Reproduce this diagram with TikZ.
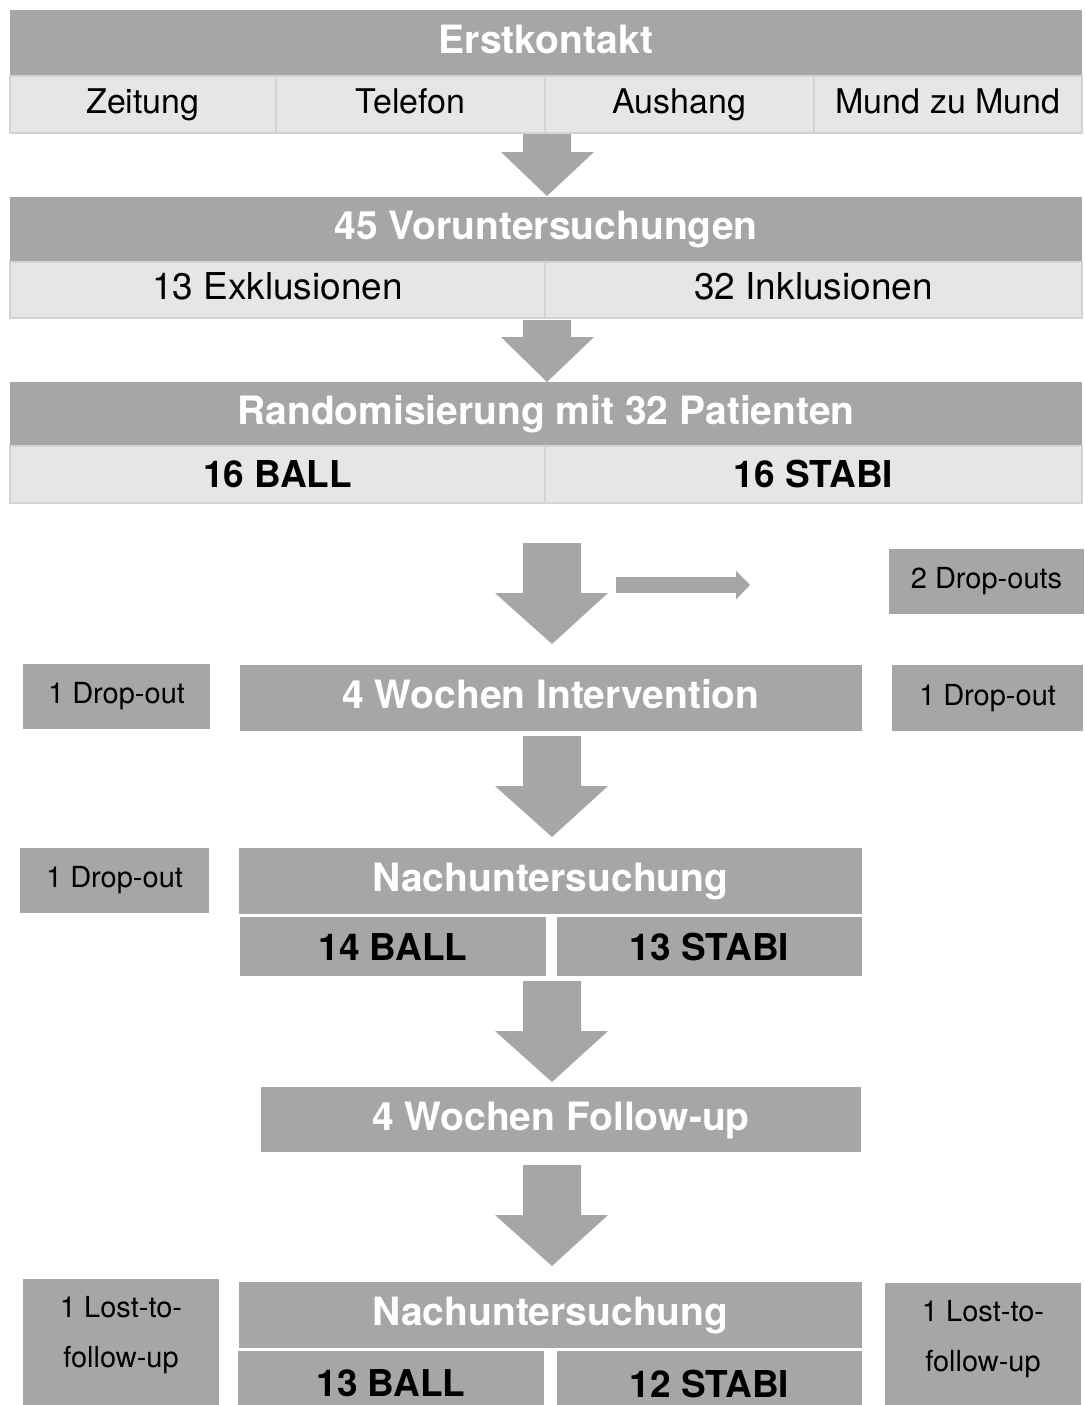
\documentclass[tikz,border=0pt]{standalone}
\usepackage{fontspec}
\setmainfont{TeX Gyre Heros}
\usetikzlibrary{arrows.meta}
\definecolor{boxgray}{HTML}{A6A6A6}
\definecolor{cellgray}{HTML}{E6E6E6}
\definecolor{cellline}{HTML}{D3D3D3}
\tikzset{
  corners/.style n args={4}{at={({(#1+#3)/2},{(#2+#4)/2})}, minimum width={(#3-#1)*0.5pt}, minimum height={(#4-#2)*0.5pt}},
  hdr/.style={fill=boxgray, inner sep=0pt, text=white, text height=14pt, text depth=3.5pt, font=\bfseries\fontsize{19.5}{23}\selectfont},
  cellbox/.style={fill=cellgray, draw=cellline, line width=1pt, inner sep=0pt, text height=12.2pt, text depth=3.7pt, font=\fontsize{17}{20}\selectfont},
  armbox/.style={fill=boxgray, inner sep=0pt, font=\bfseries\fontsize{18.5}{22}\selectfont},
  sidebox/.style={fill=boxgray, inner sep=0pt, font=\fontsize{14.5}{17}\selectfont},
  lostlabel/.style={anchor=north, yshift=-8.5pt, inner sep=0pt, align=center, font=\fontsize{14.5}{25}\selectfont}
}
\begin{document}
\begin{tikzpicture}[x=0.5pt,y=-0.5pt]
\useasboundingbox (0,0) rectangle (1084,1405);
% recruitment
\node[hdr, corners={10}{10}{1082}{75}] (erst) {Erstkontakt};
\node[cellbox, corners={10}{76}{276}{133}] (zeit) {Zeitung};
\node[cellbox, corners={276}{76}{545}{133}] (tel) {Telefon};
\node[cellbox, corners={545}{76}{814}{133}] (aush) {Aushang};
\node[cellbox, corners={814}{76}{1082}{133}] (mund) {Mund zu Mund};
% screening
\node[hdr, corners={10}{197}{1082}{261}] (vor) {45 Voruntersuchungen};
\node[cellbox, text height=13.3pt, text depth=4pt, font=\fontsize{18.5}{22}\selectfont, corners={10}{262}{545}{318}] (exkl) {13 Exklusionen};
\node[cellbox, text height=13.3pt, text depth=4pt, font=\fontsize{18.5}{22}\selectfont, corners={545}{262}{1082}{318}] (inkl) {32 Inklusionen};
% randomisation
\node[hdr, corners={10}{382}{1082}{445}] (rand) {Randomisierung mit 32 Patienten};
\node[cellbox, text height=13.3pt, text depth=0pt, font=\bfseries\fontsize{18.5}{22}\selectfont, corners={10}{446}{545}{503}] (ballA) {16 BALL};
\node[cellbox, text height=13.3pt, text depth=0pt, font=\bfseries\fontsize{18.5}{22}\selectfont, corners={545}{446}{1082}{503}] (stabiA) {16 STABI};
% intervention
\node[sidebox, corners={889}{549}{1084}{614}] (dropA) {2 Drop-outs};
\node[sidebox, corners={23}{664}{210}{729}] (dropL) {1 Drop-out};
\node[hdr, corners={240}{665}{862}{731}] (interv) {4 Wochen Intervention};
\node[sidebox, corners={892}{665}{1083}{731}] (dropR) {1 Drop-out};
% first follow-up examination
\node[sidebox, corners={20}{848}{209}{913}] (dropN) {1 Drop-out};
\node[hdr, corners={239}{848}{862}{914}] (nachA) {Nachuntersuchung};
\node[armbox, corners={240}{917}{546}{976}] (ballB) {14 BALL};
\node[armbox, corners={557}{917}{862}{976}] (stabiB) {13 STABI};
\node[hdr, corners={261}{1087}{861}{1152}] (follow) {4 Wochen Follow-up};
% second follow-up examination
\node[sidebox, corners={23}{1279}{219}{1405}, label={[lostlabel]north:1 Lost-to-\\follow-up}] (lostL) {};
\node[hdr, corners={239}{1282}{862}{1348}] (nachB) {Nachuntersuchung};
\node[armbox, corners={238}{1351}{544}{1416}] (ballC) {13 BALL};
\node[armbox, corners={557}{1351}{862}{1416}] (stabiC) {12 STABI};
\node[sidebox, corners={885}{1283}{1081}{1405}, label={[lostlabel]north:1 Lost-to-\\follow-up}] (lostR) {};
% block arrows
\foreach \t/\h/\e in {134/152/196,320/337/382}
  \fill[boxgray] (523,\t) -- (571,\t) -- (571,\h) -- (594,\h) -- (547,\e) -- (501,\h) -- (523,\h) -- cycle;
\foreach \t in {543,736,981,1165}
  \fill[boxgray] (523,\t) -- (581,\t) -- (581,\t+50) -- (608,\t+50) -- (552,\t+101) -- (495,\t+50) -- (523,\t+50) -- cycle;
\coordinate (hstart) at (616,585);
\coordinate (hend) at (750,585);
\draw[boxgray, line width=8pt, -{Triangle[length=7pt,width=14pt]}] (hstart) -- (hend);
\end{tikzpicture}
\end{document}
